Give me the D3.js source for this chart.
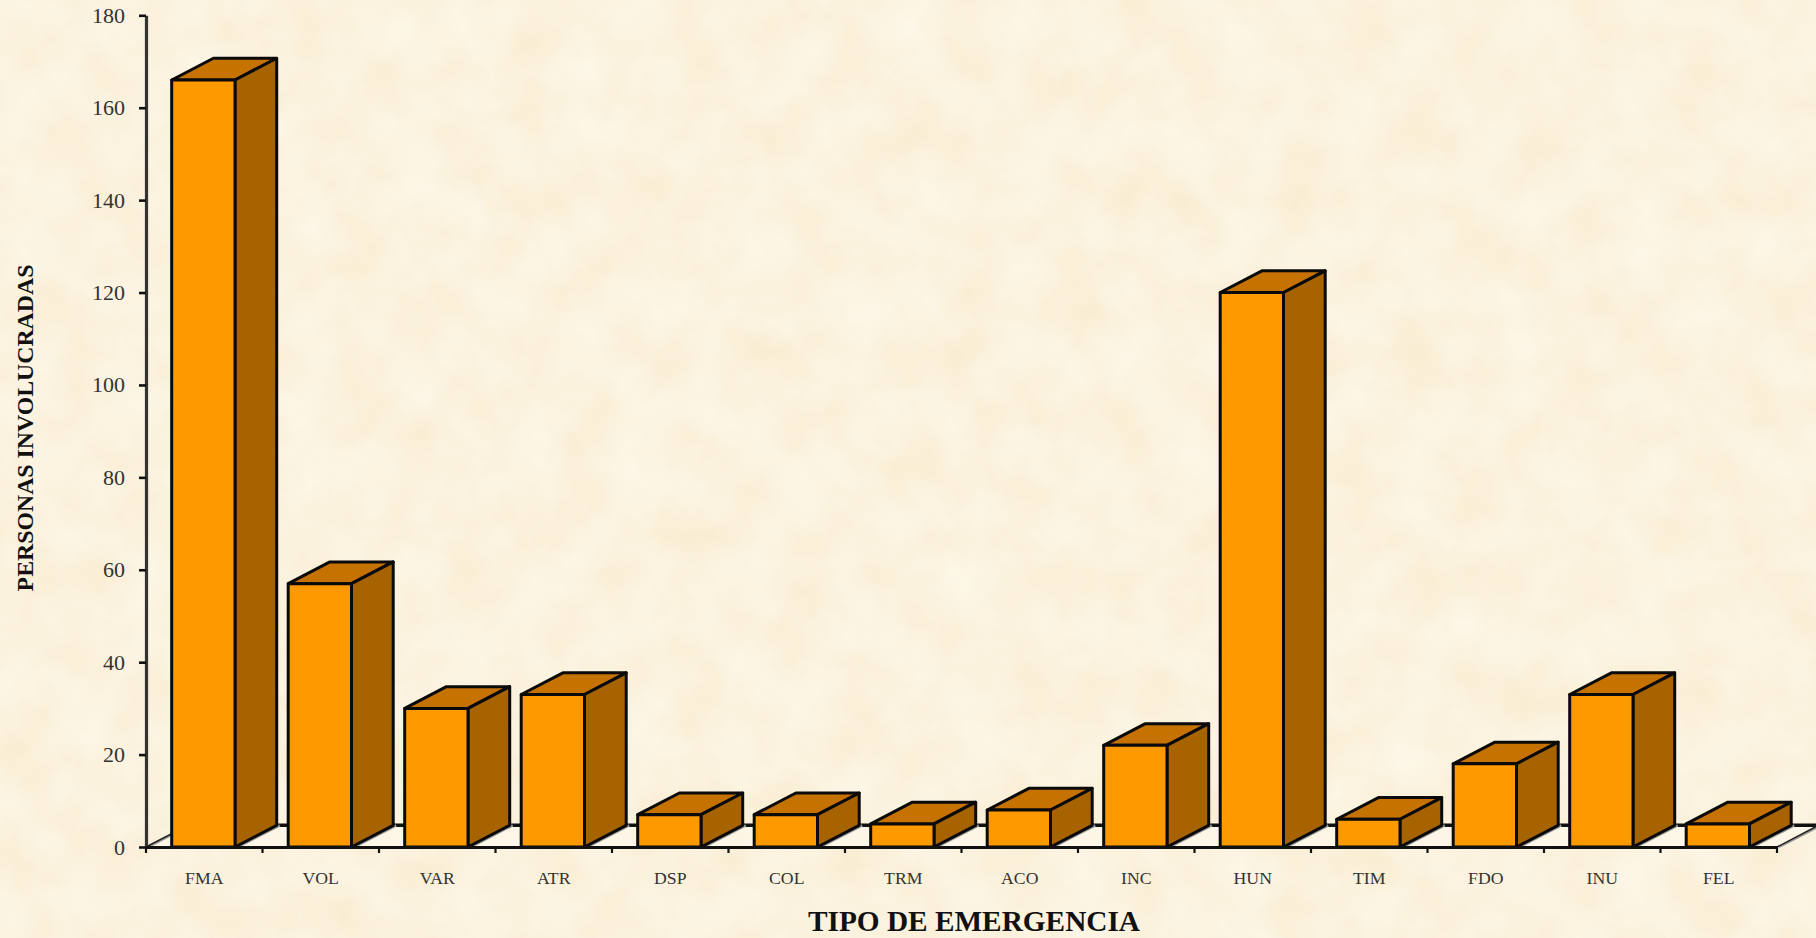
<!DOCTYPE html>
<html>
<head>
<meta charset="utf-8">
<script src="https://cdn.jsdelivr.net/npm/d3@7"></script>
<style>
html, body { margin: 0; padding: 0; background: #fbf1dc; overflow: hidden; }
svg { display: block; }
text { font-family: "Liberation Serif", serif; fill: #222; }
.axisTitle { font-weight: bold; fill: #111; }
</style>
</head>
<body>
<div id="plot"></div>
<script>
var categories = ["FMA","VOL","VAR","ATR","DSP","COL","TRM","ACO","INC","HUN","TIM","FDO","INU","FEL"];
var personas = [166,57,30,33,7,7,5,8,22,120,6,18,33,5];
var yTicks = [0,20,40,60,80,100,120,140,160,180];

var W = 1816, H = 938;
var axisX = 146, axisEndX = 1777;
var baseY = 847, topY = 15.3;
var depthX = 41.7, depthY = 21.7;

var plot = d3.select("#plot").append("svg").attr("width", W).attr("height", H);

//parchment background
var filter = plot.append("defs").append("filter")
    .attr("id", "paper").attr("x", 0).attr("y", 0).attr("width", "100%").attr("height", "100%")
    .attr("color-interpolation-filters", "sRGB");
filter.append("feTurbulence")
    .attr("type", "fractalNoise").attr("baseFrequency", 0.018).attr("numOctaves", 4).attr("seed", 7);
filter.append("feColorMatrix").attr("type", "matrix")
    .attr("values", "0.02 0 0 0 0.975  0.05 0 0 0 0.925  0.11 0 0 0 0.815  0 0 0 0 1");
plot.append("rect").attr("width", W).attr("height", H).attr("fill", "#fbf1dc").attr("filter", "url(#paper)");

//scales
var xScale = d3.scaleBand().domain(categories).range([axisX, axisEndX]);
var barW = 63.3, barOffset = 25.7;
var yScale = d3.scaleLinear().domain([0, 180]).range([baseY, topY]);

//floor
plot.append("path")
    .attr("d", "M" + axisX + "," + baseY + "L" + (axisX + depthX) + "," + (baseY - depthY) +
        "L" + W + "," + (baseY - depthY) + "L" + axisEndX + "," + baseY + "Z")
    .attr("fill", "#fff9ec").attr("opacity", 0.6);

plot.append("line")
    .attr("x1", axisX + depthX).attr("x2", W)
    .attr("y1", baseY - depthY).attr("y2", baseY - depthY)
    .attr("stroke", "#111").attr("stroke-width", 3.4);

//floor edges
[axisX, axisEndX].forEach(function(x){
  plot.append("line")
      .attr("x1", x + 2).attr("x2", x + depthX + 2)
      .attr("y1", baseY).attr("y2", baseY - depthY)
      .attr("stroke", "#999").attr("stroke-width", 2.5);
  plot.append("line")
      .attr("x1", x).attr("x2", x + depthX)
      .attr("y1", baseY).attr("y2", baseY - depthY)
      .attr("stroke", "#222").attr("stroke-width", 1.5);
});

//bars
var data = categories.map(function(c, i){ return {cat: c, val: personas[i]}; });

var bars = plot.selectAll(".bar").data(data).enter().append("g").attr("class", "bar")
    .attr("stroke", "#0a0a0a").attr("stroke-width", 3).attr("stroke-linejoin", "round");

function xL(d){ return xScale(d.cat) + barOffset; }

//shadow under the side face
bars.append("line")
    .attr("x1", function(d){ return xL(d) + barW + 3; })
    .attr("x2", function(d){ return xL(d) + barW + depthX + 3; })
    .attr("y1", baseY).attr("y2", baseY - depthY)
    .attr("stroke", "#999").attr("stroke-width", 2.5);

bars.append("path")
    .attr("fill", "#c67200")
    .attr("d", function(d){
      var x = xL(d), y = yScale(d.val);
      return "M" + x + "," + y + "L" + (x + depthX) + "," + (y - depthY) +
        "L" + (x + barW + depthX) + "," + (y - depthY) + "L" + (x + barW) + "," + y + "Z";
    });

bars.append("path")
    .attr("fill", "#a66300")
    .attr("d", function(d){
      var x = xL(d) + barW, y = yScale(d.val);
      return "M" + x + "," + y + "L" + (x + depthX) + "," + (y - depthY) +
        "L" + (x + depthX) + "," + (baseY - depthY) + "L" + x + "," + baseY + "Z";
    });

bars.append("rect")
    .attr("fill", "#ff9900")
    .attr("x", xL)
    .attr("y", function(d){ return yScale(d.val); })
    .attr("width", barW)
    .attr("height", function(d){ return baseY - yScale(d.val); });

//y axis
var yAxis = plot.append("g")
    .attr("transform", "translate(" + axisX + ",0)")
    .call(d3.axisLeft(yScale).tickValues(yTicks).tickSize(7).tickSizeOuter(0).tickPadding(14));
yAxis.select(".domain").attr("stroke", "#333").attr("stroke-width", 3.2);
yAxis.selectAll("line").attr("stroke", "#111").attr("stroke-width", 2.6);
yAxis.selectAll("text").style("font-size", "22px").style("font-family", "Liberation Serif").style("fill", "#333");

//x axis
var xAxis = plot.append("g")
    .attr("transform", "translate(0," + baseY + ")")
    .call(d3.axisBottom(xScale).tickSize(0).tickSizeOuter(0).tickPadding(24));
xAxis.select(".domain").attr("stroke", "#111").attr("stroke-width", 3);
xAxis.selectAll("text").style("font-size", "17.7px").style("font-family", "Liberation Serif").style("fill", "#333");

//x ticks sit on the band edges
xAxis.selectAll(".edge").data(categories.concat(["end"])).enter().append("line")
    .attr("class", "edge")
    .attr("x1", function(d, i){ return axisX + i * xScale.step(); })
    .attr("x2", function(d, i){ return axisX + i * xScale.step(); })
    .attr("y1", 0).attr("y2", 6)
    .attr("stroke", "#111").attr("stroke-width", 2.2);

//titles
plot.append("text").attr("class", "axisTitle")
    .attr("x", 974).attr("y", 931).attr("text-anchor", "middle")
    .style("font-size", "29.3px")
    .text("TIPO DE EMERGENCIA");

plot.append("text").attr("class", "axisTitle")
    .attr("transform", "translate(33,428) rotate(-90)")
    .attr("text-anchor", "middle").style("font-size", "23.8px")
    .text("PERSONAS INVOLUCRADAS");
</script>
</body>
</html>
